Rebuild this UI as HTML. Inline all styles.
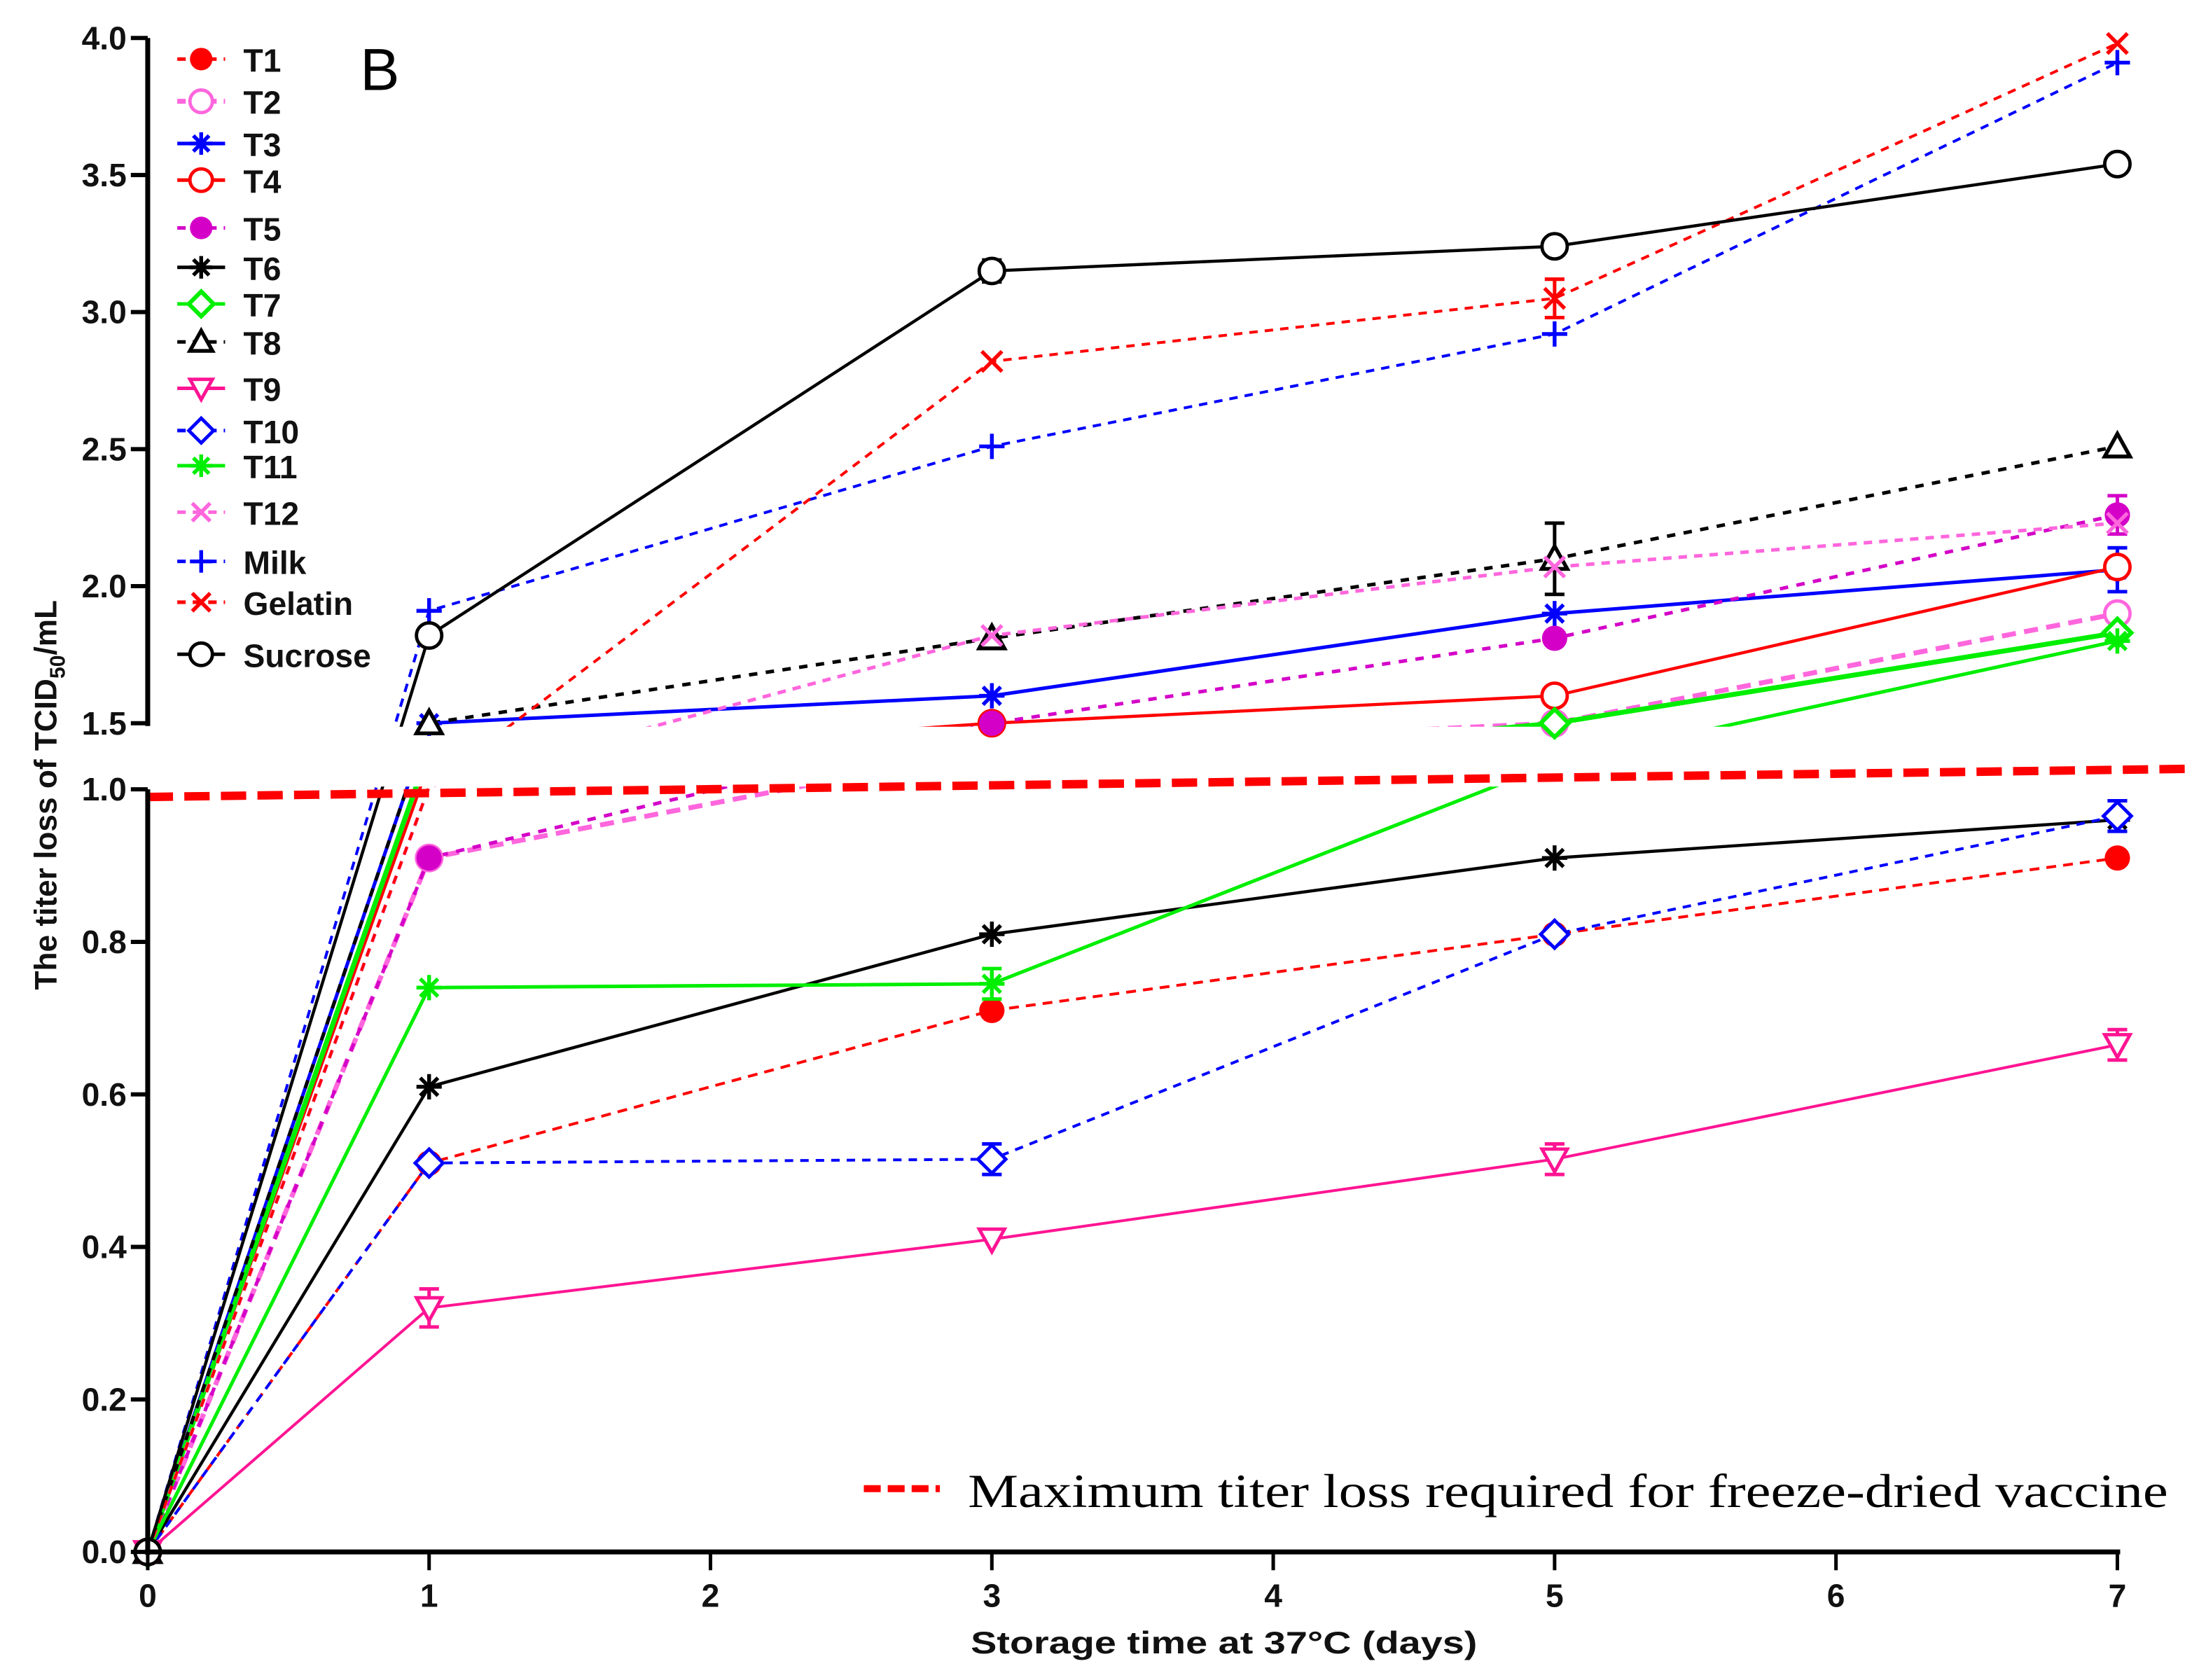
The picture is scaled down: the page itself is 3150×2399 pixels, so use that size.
<!DOCTYPE html>
<html><head><meta charset="utf-8"><style>
html,body{margin:0;padding:0;background:#fff;}
svg{display:block;}
text{font-family:"Liberation Sans",Arial,sans-serif;}
</style></head><body>
<svg id="chart" width="3150" height="2399" viewBox="0 0 1568 1194" preserveAspectRatio="none" xmlns="http://www.w3.org/2000/svg">
<rect x="0" y="0" width="1568" height="1194" fill="#fff"/>
<g id="lines"></g>
<rect x="107" y="516.5" width="1461" height="42.5" fill="#fff"/>
<g id="thresh"></g>
<g id="marks"></g>
<g id="axes"></g>
<g id="legend"></g>
</svg>
<script>
const days = [0, 1, 3, 5, 7];
const seriesNames = ["T1","T2","T3","T4","T5","T6","T7","T8","T9","T10","T11","T12","Milk","Gelatin","Sucrose"];
const vT1 = [0, 0.51, 0.71, 0.81, 0.91];
const vT2 = [0, 0.91, 1.3, 1.5, 1.9];
const vT3 = [0, 1.5, 1.6, 1.9, 2.06];
const vT4 = [0, 1.2, 1.5, 1.6, 2.07];
const vT5 = [0, 0.91, 1.5, 1.81, 2.26];
const vT6 = [0, 0.61, 0.81, 0.91, 0.96];
const vT7 = [0, 1.3, 1.1, 1.5, 1.83];
const vT8 = [0, 1.5, 1.81, 2.1, 2.51];
const vT9 = [0, 0.32, 0.41, 0.515, 0.665];
const vT10 = [0, 0.51, 0.515, 0.81, 0.965];
const vT11 = [0, 0.74, 0.745, 1.2, 1.8];
const vT12 = [0, 1.02, 1.82, 2.07, 2.23];
const vMilk = [0, 1.91, 2.51, 2.92, 3.91];
const vGelatin = [0, 1.02, 2.82, 3.05, 3.98];
const vSucrose = [0, 1.82, 3.15, 3.24, 3.54];
const eT3 = [0, 0, 0, 0, 0.08];
const eT5 = [0, 0, 0, 0, 0.07];
const eT8 = [0, 0, 0, 0.13, 0];
const eT9 = [0, 0.025, 0, 0.02, 0.02];
const eT10 = [0, 0, 0.02, 0, 0.02];
const eT11 = [0, 0, 0.02, 0, 0];
const eGelatin = [0, 0, 0, 0.07, 0];
const eSucrose = [0, 0, 0.04, 0.03, 0.03];
const yTopTicks = [1.5, 2.0, 2.5, 3.0, 3.5, 4.0];
const yBotTicks = [0.0, 0.2, 0.4, 0.6, 0.8, 1.0];
const xTicks = [0, 1, 2, 3, 4, 5, 6, 7];
const thresholdValue = [0.99, 1.03];

const vals = [vT1,vT2,vT3,vT4,vT5,vT6,vT7,vT8,vT9,vT10,vT11,vT12,vMilk,vGelatin,vSucrose];
const errs = [null,null,eT3,null,eT5,null,null,eT8,eT9,eT10,eT11,null,null,eGelatin,eSucrose];
const style = [
 {c:"#ff0000",m:"cf",d:"7,5",w:2},
 {c:"#ff66dd",m:"co",d:"10,6",w:3.5},
 {c:"#0000ff",m:"st",d:"",w:2.5},
 {c:"#ff0000",m:"co",d:"",w:2.2},
 {c:"#d400c8",m:"cf",d:"6,6",w:2.5},
 {c:"#000000",m:"st",d:"",w:2.2},
 {c:"#00ee00",m:"di",d:"",w:3.5},
 {c:"#000000",m:"tu",d:"6,6",w:2.5},
 {c:"#ff1493",m:"td",d:"",w:2},
 {c:"#0000ff",m:"dm",d:"6,5",w:2},
 {c:"#00ee00",m:"st",d:"",w:2.5},
 {c:"#ff66dd",m:"x",d:"6,5",w:2.5},
 {c:"#0000ff",m:"pl",d:"6,5",w:2},
 {c:"#ff0000",m:"x",d:"6,5",w:2},
 {c:"#000000",m:"co",d:"",w:2.2}
];
const NS="http://www.w3.org/2000/svg";
const X0=105, XS=200;
function xPix(d){return X0+XS*d;}
function yPix(v){
  if(v<=1) return 1103-542*v;
  if(v>=1.5) return 514-194.8*(v-1.5);
  return 561-(v-1)/0.5*47;
}
function mk(tag,attrs,parent){const e=document.createElementNS(NS,tag);for(const k in attrs)e.setAttribute(k,attrs[k]);parent.appendChild(e);return e;}
function marker(g,m,cx,cy,c,r){
  const s={stroke:c,"stroke-width":2.4,fill:"none"};
  let el;
  if(m==="cf"){el=mk("circle",{cx,cy,r,fill:c},g);}
  else if(m==="co"){el=mk("circle",{cx,cy,r,stroke:c,"stroke-width":2.4,fill:"#fff"},g);}
  else if(m==="st"){el=mk("path",{d:`M${cx-r} ${cy}H${cx+r}M${cx} ${cy-r}V${cy+r}M${cx-r*0.7} ${cy-r*0.7}L${cx+r*0.7} ${cy+r*0.7}M${cx-r*0.7} ${cy+r*0.7}L${cx+r*0.7} ${cy-r*0.7}`,...s,"stroke-width":2.7},g);}
  else if(m==="di"||m==="dm"){el=mk("path",{d:`M${cx} ${cy-r*1.1}L${cx+r*1.1} ${cy}L${cx} ${cy+r*1.1}L${cx-r*1.1} ${cy}Z`,stroke:c,"stroke-width":m==="di"?3:2.4,fill:"#fff"},g);}
  else if(m==="tu"){el=mk("path",{d:`M${cx} ${cy-r}L${cx+r} ${cy+r*0.8}L${cx-r} ${cy+r*0.8}Z`,stroke:c,"stroke-width":2.7,fill:"#fff"},g);}
  else if(m==="td"){el=mk("path",{d:`M${cx-r} ${cy-r*0.8}L${cx+r} ${cy-r*0.8}L${cx} ${cy+r}Z`,stroke:c,"stroke-width":2.4,fill:"#fff"},g);}
  else if(m==="pl"){el=mk("path",{d:`M${cx-r} ${cy}H${cx+r}M${cx} ${cy-r}V${cy+r}`,...s,"stroke-width":2.7},g);}
  else {el=mk("path",{d:`M${cx-r*0.8} ${cy-r*0.8}L${cx+r*0.8} ${cy+r*0.8}M${cx-r*0.8} ${cy+r*0.8}L${cx+r*0.8} ${cy-r*0.8}`,...s,"stroke-width":2.7},g);}
  return el;
}
const gl=document.getElementById("lines"), gm=document.getElementById("marks");
vals.forEach((v,i)=>{
  const st=style[i];
  const pts=days.map((d,j)=>xPix(d)+","+yPix(v[j])).join(" ");
  const pl=mk("polyline",{points:pts,fill:"none",stroke:st.c,"stroke-width":st.w,"stroke-dasharray":st.d},gl);
  
  
});
vals.forEach((v,i)=>{
  const st=style[i];
  const g=mk("g",{},gm);
  
  
  days.forEach((d,j)=>{
    if(v[j]>1.001&&v[j]<1.499) return;
    const cx=xPix(d), cy=yPix(v[j]);
    const e=errs[i];
    if(e&&e[j]>0){
      const y1=yPix(v[j]+e[j]), y2=yPix(v[j]-e[j]);
      mk("path",{d:`M${cx} ${y1}V${y2}M${cx-7} ${y1}H${cx+7}M${cx-7} ${y2}H${cx+7}`,stroke:st.c,"stroke-width":2.5,fill:"none"},g);
    }
    const mm=marker(g,st.m,cx,cy,st.c,9);
    
    
  });
});
const gt=document.getElementById("thresh");
const tl=mk("line",{x1:105,y1:yPix(thresholdValue[0]),x2:1556,y2:yPix(thresholdValue[0])-20,stroke:"#ff0000","stroke-width":6,"stroke-dasharray":"18,8"},gt);


const ga=document.getElementById("axes");
mk("path",{d:"M105 27V516M105 561V1105",stroke:"#000","stroke-width":3.5,fill:"none"},ga);
mk("path",{d:"M103 1103H1507",stroke:"#000","stroke-width":3.5},ga);
yTopTicks.concat(yBotTicks).forEach(t=>{
  const y=yPix(t);
  mk("line",{x1:93,y1:y,x2:105,y2:y,stroke:"#000","stroke-width":3},ga);
  const tx=mk("text",{x:90,y:y+8,"text-anchor":"end","font-size":23,"font-weight":"bold",fill:"#111"},ga);
  tx.textContent=t.toFixed(1);
  
  
});
xTicks.forEach(t=>{
  const x=xPix(t);
  mk("line",{x1:x,y1:1103,x2:x,y2:1116,stroke:"#000","stroke-width":2.5},ga);
  const tx=mk("text",{x:x,y:1142,"text-anchor":"middle","font-size":23,"font-weight":"bold",fill:"#111"},ga);
  tx.textContent=String(t);
  
  
});
</script>
<svg style="position:absolute;left:0;top:0" width="3150" height="2399" viewBox="0 0 1568 1194" preserveAspectRatio="none" xmlns="http://www.w3.org/2000/svg">
<text x="870" y="1175" text-anchor="middle" font-size="22" font-weight="bold" fill="#111" textLength="360" lengthAdjust="spacingAndGlyphs">Storage time at 37°C (days)</text>
<text transform="translate(40,565) rotate(-90)" text-anchor="middle" font-size="22" font-weight="bold" fill="#111">The titer loss of TCID<tspan font-size="15" dy="6">50</tspan><tspan dy="-6">/mL</tspan></text>
<text x="256" y="64" font-size="42" fill="#000">B</text>
<line x1="614" y1="1058" x2="668" y2="1058" stroke="#ff0000" stroke-width="5" stroke-dasharray="12,5"/>
<text x="688" y="1071" style="font-family:'Liberation Serif',serif" font-size="34" fill="#000" textLength="853" lengthAdjust="spacingAndGlyphs">Maximum titer loss required  for freeze-dried vaccine</text>
<g id="legend2"></g>
</svg>
<script>
const legendY=[42,72,102,128,162,190,216,243,276,306,331,364,399,428,465];
(function(){
 const g=document.getElementById("legend2");
 const N="http://www.w3.org/2000/svg";
 seriesNames.forEach((n,i)=>{
  const st=style[i], y=legendY[i];
  const e=document.createElementNS(N,"g");
  
  
  g.appendChild(e);
  mk("line",{x1:126,y1:y,x2:160,y2:y,stroke:st.c,"stroke-width":i===1?3.5:2.5,"stroke-dasharray":st.d?"6,5":""},e);
  marker(e,st.m,143,y,st.c,8);
  const t=mk("text",{x:173,y:y+9,"font-size":23,"font-weight":"bold",fill:"#111"},e);
  t.textContent=n;
 });
})();
</script>
</body></html>
